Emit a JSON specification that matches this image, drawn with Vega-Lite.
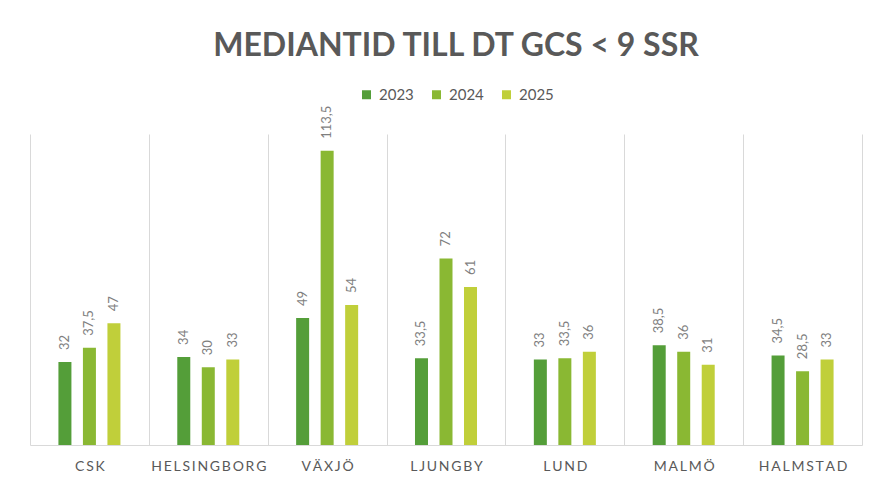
{
  "$schema": "https://vega.github.io/schema/vega-lite/v6.json",
  "width": 832,
  "height": 311,
  "autosize": "none",
  "padding": {"left": 30, "top": 134, "right": 12, "bottom": 38},
  "background": "white",
  "config": {
    "locale": {"number": {"decimal": ",", "thousands": " ", "grouping": [3], "currency": ["", " kr"]}},
    "view": {"stroke": null},
    "font": "Lato"
  },
  "title": {
    "text": "MEDIANTID TILL DT GCS < 9 SSR",
    "font": "Lato",
    "fontSize": 32,
    "fontWeight": "bold",
    "color": "#595959",
    "anchor": "middle",
    "frame": "group",
    "dx": 10,
    "offset": 24
  },
  "data": {
    "values": [
      {"site": "CSK", "year": "2023", "value": 32},
      {"site": "CSK", "year": "2024", "value": 37.5},
      {"site": "CSK", "year": "2025", "value": 47},
      {"site": "HELSINGBORG", "year": "2023", "value": 34},
      {"site": "HELSINGBORG", "year": "2024", "value": 30},
      {"site": "HELSINGBORG", "year": "2025", "value": 33},
      {"site": "VÄXJÖ", "year": "2023", "value": 49},
      {"site": "VÄXJÖ", "year": "2024", "value": 113.5},
      {"site": "VÄXJÖ", "year": "2025", "value": 54},
      {"site": "LJUNGBY", "year": "2023", "value": 33.5},
      {"site": "LJUNGBY", "year": "2024", "value": 72},
      {"site": "LJUNGBY", "year": "2025", "value": 61},
      {"site": "LUND", "year": "2023", "value": 33},
      {"site": "LUND", "year": "2024", "value": 33.5},
      {"site": "LUND", "year": "2025", "value": 36},
      {"site": "MALMÖ", "year": "2023", "value": 38.5},
      {"site": "MALMÖ", "year": "2024", "value": 36},
      {"site": "MALMÖ", "year": "2025", "value": 31},
      {"site": "HALMSTAD", "year": "2023", "value": 34.5},
      {"site": "HALMSTAD", "year": "2024", "value": 28.5},
      {"site": "HALMSTAD", "year": "2025", "value": 33}
    ]
  },
  "encoding": {
    "x": {
      "field": "site",
      "type": "nominal",
      "sort": null,
      "scale": {"paddingInner": 0, "paddingOuter": 0},
      "axis": {
        "title": null,
        "orient": "bottom",
        "labelAngle": 0,
        "labelFont": "Lato",
        "labelFontSize": 14,
        "labelColor": "#595959",
        "labelPadding": 14,
        "labelExpr": "join(split(datum.label, ''), '\u2009')",
        "ticks": false,
        "domainColor": "#d9d9d9",
        "domainWidth": 1,
        "grid": true,
        "gridColor": "#d9d9d9",
        "gridWidth": 1,
        "tickBand": "extent"
      }
    },
    "xOffset": {
      "field": "year",
      "type": "nominal",
      "scale": {"paddingInner": 0.15, "paddingOuter": 1}
    },
    "y": {
      "field": "value",
      "type": "quantitative",
      "scale": {"domain": [0, 120], "nice": false},
      "axis": null
    }
  },
  "layer": [
    {
      "mark": {"type": "bar", "width": 13},
      "encoding": {
        "color": {
          "field": "year",
          "type": "nominal",
          "scale": {"domain": ["2023", "2024", "2025"], "range": ["#549E39", "#8AB833", "#C0CF3A"]},
          "legend": {
            "title": null,
            "orient": "none",
            "direction": "horizontal",
            "legendX": 329,
            "legendY": -47,
            "symbolType": "square",
            "symbolSize": 81,
            "symbolStrokeWidth": 0,
            "labelFont": "Lato",
            "labelFontSize": 15,
            "labelColor": "#595959",
            "labelOffset": 5,
            "columnPadding": 15
          }
        }
      }
    },
    {
      "mark": {
        "type": "text",
        "angle": 270,
        "align": "left",
        "baseline": "middle",
        "dx": 12,
        "font": "Lato",
        "fontSize": 13,
        "color": "#7f7f7f"
      },
      "encoding": {
        "text": {"field": "value", "type": "quantitative", "format": ".1~f"}
      }
    }
  ]
}
